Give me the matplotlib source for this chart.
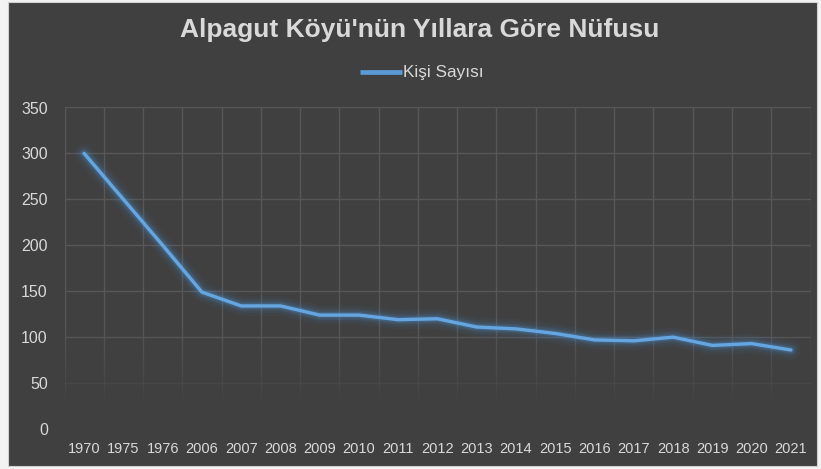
import matplotlib
matplotlib.use("Agg")
import matplotlib.pyplot as plt
from matplotlib.patches import Rectangle
from matplotlib.lines import Line2D
import numpy as np

years = ["1970", "1975", "1976", "2006", "2007", "2008", "2009", "2010", "2011", "2012",
         "2013", "2014", "2015", "2016", "2017", "2018", "2019", "2020", "2021"]
population = [300, 250, 200, 149, 134, 134, 124, 124, 119, 120,
              111, 109, 104, 97, 96, 100, 91, 93, 86]
y_ticks = [0, 50, 100, 150, 200, 250, 300, 350]
title = "Alpagut Köyü'nün Yıllara Göre Nüfusu"
series_name = "Kişi Sayısı"

BG = "#404040"
GRID = "#575757"
TXT = "#d9d9d9"
BLUE = "#5b9bd5"

plt.rcParams['font.family'] = ['Liberation Sans', 'DejaVu Sans']

W, H = 821, 469
fig = plt.figure(figsize=(W / 100, H / 100), dpi=100, facecolor="#f2f2f2")
bg = Rectangle((8 / W, 1 - 466 / H), (817 - 8) / W, (466 - 2) / H,
               transform=fig.transFigure, facecolor=BG,
               edgecolor="#d0d0d0", linewidth=0.8, zorder=-10)
fig.patches.append(bg)

ax_l, ax_r, ax_t, ax_b = 64.5, 810.5, 107.5, 429
ax = fig.add_axes([ax_l / W, 1 - ax_b / H, (ax_r - ax_l) / W, (ax_b - ax_t) / H])
ax.set_zorder(5)
ax.patch.set_visible(False)

x = np.arange(len(years))
# glow
for lw, a in [(14, 0.05), (10, 0.08), (7, 0.14), (4.5, 0.25)]:
    ax.plot(x, population, color="#4a8fd0", linewidth=lw, alpha=a,
            solid_capstyle="round", solid_joinstyle="round", zorder=3)
ax.plot(x, population, color="#66a6e0", linewidth=2.4, solid_capstyle="round",
        solid_joinstyle="round", zorder=4)

ax.set_xlim(-0.5, len(years) - 0.5)
ax.set_ylim(0, 350)
ax.set_yticks(y_ticks)
ax.set_yticklabels([str(v) for v in y_ticks])
ax.set_xticks(x)
ax.set_xticklabels(years)

ax.grid(False)
# gridlines fade out toward the bottom, as in the reference
def fade(v):
    return float(np.clip((v - 20) / 90, 0, 1))

for v in y_ticks:
    a = fade(v)
    if a > 0:
        ax.axhline(v, color=GRID, linewidth=1.0, alpha=a, zorder=1)
for b in np.arange(-0.5, len(years)):
    ax.plot([b, b], [110, 350], color=GRID, linewidth=1.0, zorder=1)
    segs = np.linspace(20, 110, 19)
    for y0, y1 in zip(segs[:-1], segs[1:]):
        ax.plot([b, b], [y0, y1], color=GRID, linewidth=1.0,
                alpha=fade((y0 + y1) / 2), zorder=1, solid_capstyle="butt")

for s in ax.spines.values():
    s.set_visible(False)
ax.tick_params(axis="both", which="both", length=0)
ax.tick_params(axis="y", labelsize=11.5, labelcolor=TXT, pad=12)
ax.tick_params(axis="x", labelsize=10.5, labelcolor=TXT, pad=9)

fig.text(420 / W, 1 - 30 / H, title, ha="center", va="center",
         fontsize=19, fontweight="bold", color=TXT, zorder=6)

# legend
ly = 1 - 72 / H
fig.add_artist(Line2D([360 / W, 402 / W], [ly, ly], transform=fig.transFigure,
                      color=BLUE, linewidth=3.4, solid_capstyle="butt", zorder=6))
fig.text(403 / W, ly, series_name, ha="left", va="center", fontsize=12.3,
         color=TXT, zorder=6)

fig.savefig("out.png", dpi=100, facecolor=fig.get_facecolor())
